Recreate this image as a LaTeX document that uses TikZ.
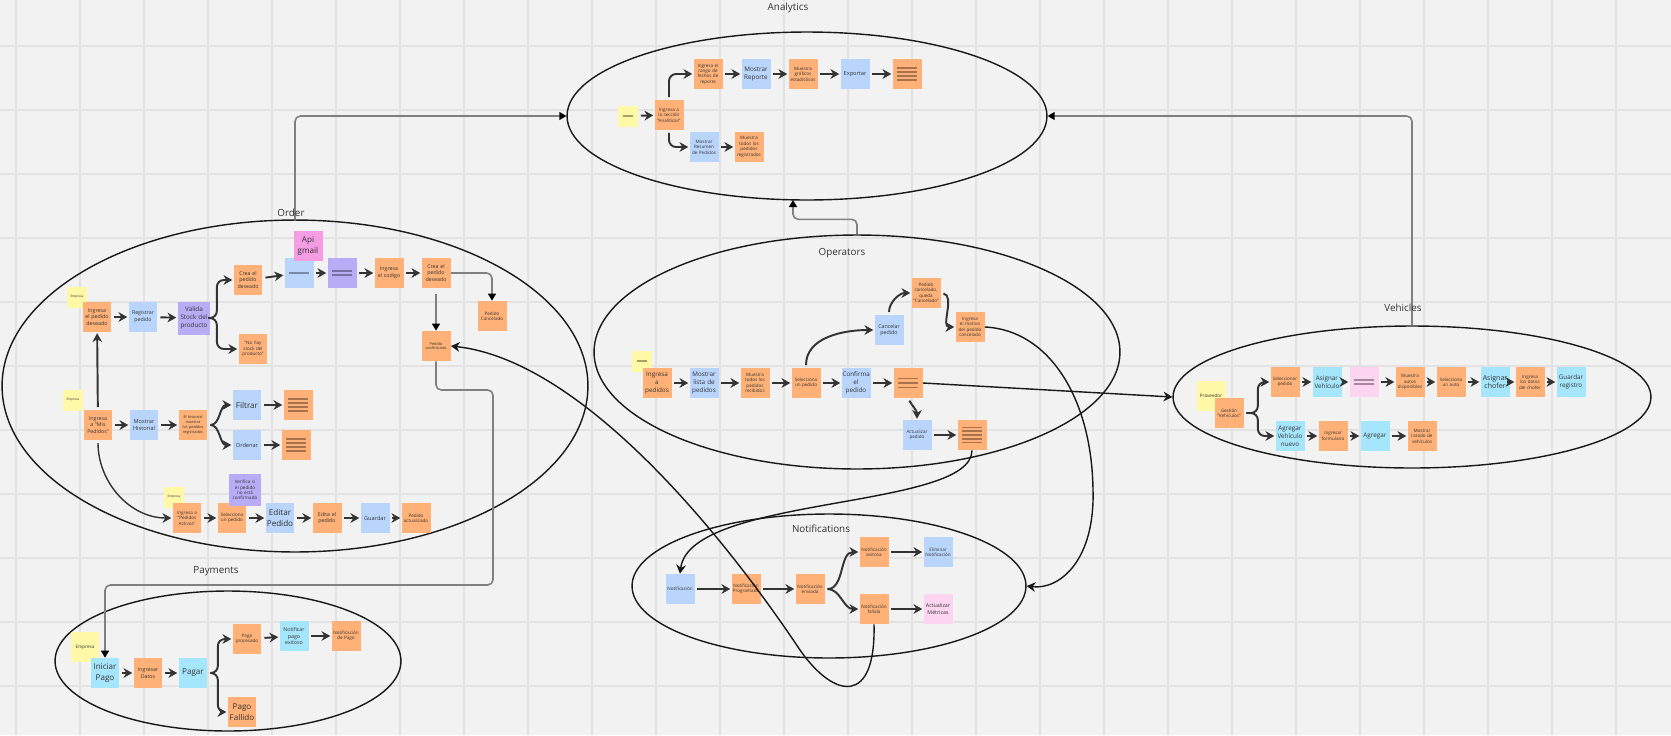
\documentclass[tikz,border=0pt]{standalone}
\usepackage{fontspec}
\setmainfont{Open Sans}
\usetikzlibrary{arrows.meta,shapes.geometric,calc}

\definecolor{bgcol}{HTML}{F2F2F2}
\definecolor{gridcol}{HTML}{E2E2E2}
\definecolor{orangenote}{HTML}{FFB177}
\definecolor{bluenote}{HTML}{B9D5FC}
\definecolor{cyannote}{HTML}{A6E6FC}
\definecolor{purplenote}{HTML}{B9ACF6}
\definecolor{pinknote}{HTML}{F59DE2}
\definecolor{lpinknote}{HTML}{FDD5F1}
\definecolor{yellownote}{HTML}{FFF8A6}
\definecolor{inkcol}{HTML}{333333}

\tikzset{
  note/.style={minimum width=0.58cm, minimum height=0.6cm, inner sep=0.4pt,
    text width=0.54cm, align=center, text=inkcol,
    font=\fontsize{2.6}{3.1}\selectfont},
  onote/.style={note, fill=orangenote},
  bnote/.style={note, fill=bluenote},
  cnote/.style={note, fill=cyannote},
  vnote/.style={note, fill=purplenote},
  knote/.style={note, fill=pinknote},
  lnote/.style={note, fill=lpinknote},
  ynote/.style={note, fill=yellownote},
  ysmall/.style={minimum width=0.4cm, minimum height=0.42cm, text width=0.36cm,
    font=\fontsize{1.8}{2.2}\selectfont},
  mtx/.style={font=\fontsize{3.6}{4.6}\selectfont},
  btx/.style={font=\fontsize{4.6}{6}\selectfont},
  zone/.style={ellipse, draw=black!90, line width=0.8pt, inner sep=0pt},
  zonetitle/.style={font=\fontsize{5.6}{7}\selectfont, text=inkcol},
  docline/.style={line width=0.9pt, draw=black, draw opacity=0.35},
  flow/.style={draw=inkcol, line width=1.1pt, shorten >=0.5pt, shorten <=1.5pt,
    -{Stealth[length=5pt,width=5.5pt,inset=1.6pt]}},
  link/.style={draw=black!50, line width=0.9pt, rounded corners=3pt,
    -{Triangle[length=4pt,width=4.5pt,color=black]}},
  wire/.style={draw=black!90, line width=0.8pt,
    -{Stealth[length=5pt,width=5.5pt,inset=1.6pt]}},
}

% lines drawn across a sticky note
\newcommand{\notelines}[2]{%
  \foreach \f in {#2}
    \draw[docline] ($(#1.north west)!\f!(#1.south west)+(5,0)$) -- ($(#1.north east)!\f!(#1.south east)+(-5,0)$);}

\begin{document}
\begin{tikzpicture}[x=0.02cm, y=-0.02cm]
  \useasboundingbox (0,0) rectangle (1671,735);
  \fill[bgcol] (0,0) rectangle (1671,735);
  \foreach \x in {16,80,...,1616}
    \draw[gridcol, line width=0.6pt] (\x,0) -- (\x,735);
  \foreach \y in {46,110,...,686}
    \draw[gridcol, line width=0.6pt] (0,\y) -- (1671,\y);

  % zones
  \node[zone, minimum width=9.6cm, minimum height=3.36cm] (analytics) at (807,116) {};
  \node[zone, minimum width=11.72cm, minimum height=6.64cm] (order) at (295,386) {};
  \node[zone, minimum width=6.92cm, minimum height=2.8cm] (payments) at (228,661) {};
  \node[zone, minimum width=10.52cm, minimum height=4.68cm] (operators) at (857,352) {};
  \node[zone, minimum width=7.88cm, minimum height=2.88cm] (notif) at (829,586) {};
  \node[zone, minimum width=9.56cm, minimum height=2.84cm] (vehicles) at (1412,397) {};
  \coordinate (anbot) at (793,200);

  % links between zones
  \draw[link] (order.north) |- (analytics.west);
  \draw[link] (vehicles.north) |- (analytics.east);
  \draw[link] (operators.north) -- ++(0,-15) -| (anbot);

  \node[zonetitle] (antitle) at (788,8) {Analytics};
  \node[zonetitle] (ortitle) at (291,213) {Order};
  \node[zonetitle] (patitle) at (216,571) {Payments};
  \node[zonetitle] (optitle) at (842,253) {Operators};
  \node[zonetitle] (notitle) at (821,529) {Notifications};
  \node[zonetitle] (vetitle) at (1403,308) {Vehicles};

  % analytics
  \node[ynote, ysmall] (anyel) at (628,116) {};
  \node[onote] (ansec) at (669,115) {Ingresa a la sección ``Analíticas''};
  \node[onote] (anrango) at (708,74) {Ingresa el rango de fechas de reporte};
  \node[bnote, mtx] (anrep) at (756,74) {Mostrar Reporte};
  \node[onote] (angraf) at (803,74) {Muestra gráficos estadísticos};
  \node[bnote, font=\fontsize{3.2}{4}\selectfont] (anexp) at (855,74) {Exportar};
  \node[onote] (andoc) at (907,74) {};
  \node[bnote] (anres) at (704,147) {Mostrar Resumen de Pedidos};
  \node[onote] (antodos) at (749,147) {Muestra todos los pedidos registrados};
  \notelines{anyel}{0.5}
  \notelines{andoc}{0.3,0.43,0.57,0.7}

  % order
  \node[ynote, ysmall] (oemp1) at (77,297) {Empresa};
  \node[onote, font=\fontsize{3}{3.8}\selectfont] (oing) at (97,317) {Ingresa el pedido deseado};
  \node[bnote, font=\fontsize{3}{3.8}\selectfont] (oreg) at (143,317) {Registrar pedido};
  \node[vnote, mtx, minimum width=0.66cm, minimum height=0.66cm, text width=0.62cm] (oval) at (194,318) {Valida Stock del producto};
  \node[onote, font=\fontsize{3}{3.8}\selectfont] (ocrea) at (248,280) {Crea el pedido deseado};
  \node[onote] (onost) at (253,349) {``No hay stock del producto''};
  \node[bnote] (oblue) at (299,273) {};
  \node[knote, btx] (oapi) at (308,246) {Api gmail};
  \node[vnote] (opurp) at (342,273) {};
  \node[onote, font=\fontsize{3}{3.8}\selectfont] (ocod) at (389,273) {Ingresa el codigo};
  \node[onote, font=\fontsize{3}{3.8}\selectfont] (ocrea2) at (436,273) {Crea el pedido deseado};
  \node[onote] (ocanc) at (492,316) {Pedido Cancelado};
  \node[onote, font=\fontsize{2.2}{2.7}\selectfont] (oconf) at (436,346) {Pedido confirmado};
  \node[ynote, ysmall] (oemp2) at (73,400) {Empresa};
  \node[onote, font=\fontsize{3}{3.8}\selectfont] (omis) at (98,425) {Ingresa a ``Mis Pedidos''};
  \node[bnote, font=\fontsize{3.2}{4.2}\selectfont] (ohist) at (144,425) {Mostrar Historial};
  \node[onote, font=\fontsize{2.2}{2.7}\selectfont] (ohistm) at (193,425) {El historial muestra los pedidos registrados};
  \node[bnote, btx] (ofilt) at (247,405) {Filtrar};
  \node[onote] (ofdoc) at (298,405) {};
  \node[bnote, font=\fontsize{3.2}{4.2}\selectfont] (oord) at (247,445) {Ordenar};
  \node[onote] (oodoc) at (296,445) {};
  \node[ynote, ysmall] (oemp3) at (174,497) {Empresa};
  \node[onote] (oact) at (187,518) {Ingresa a ``Pedidos Activos''};
  \node[onote] (osel) at (232,518) {Selecciona un pedido};
  \node[vnote, minimum width=0.64cm, minimum height=0.64cm, text width=0.6cm] (overif) at (245,490) {Verifica si el pedido no está confirmado};
  \node[bnote, btx] (oedit) at (280,518) {Editar Pedido};
  \node[onote, font=\fontsize{3}{3.8}\selectfont] (oedita) at (327,518) {Edita el pedido};
  \node[bnote, font=\fontsize{3.2}{4.2}\selectfont] (oguard) at (375,518) {Guardar};
  \node[onote] (oactz) at (416,518) {Pedido actualizado};
  \notelines{oblue}{0.5}
  \notelines{opurp}{0.44,0.56}
  \notelines{ofdoc}{0.3,0.43,0.57,0.7}
  \notelines{oodoc}{0.3,0.43,0.57,0.7}

  % payments
  \node[ynote] (pemp) at (85,647) {Empresa};
  \node[cnote, btx] (pinit) at (105,673) {Iniciar Pago};
  \node[onote, font=\fontsize{3}{3.8}\selectfont] (pdat) at (148,673) {Ingresar Datos};
  \node[cnote, btx] (ppag) at (193,673) {Pagar};
  \node[onote] (pproc) at (247,639) {Pago procesado};
  \node[cnote, font=\fontsize{3}{3.8}\selectfont] (pnot) at (294,636) {Notificar pago exitoso};
  \node[onote] (pnotif) at (346,636) {Notificación de Pago};
  \node[onote, btx] (pfall) at (242,712) {Pago Fallido};

  % operators
  \node[ynote, ysmall] (opyel) at (642,361) {};
  \node[onote, mtx] (oping) at (657,383) {Ingresa a pedidos};
  \node[bnote, mtx] (oplist) at (704,383) {Mostrar lista de pedidos};
  \node[onote] (opmues) at (755,383) {Muestra todos los pedidos recibidos};
  \node[onote] (opsel) at (806,383) {Selecciona un pedido};
  \node[bnote, mtx] (opconf) at (856,383) {Confirma el pedido};
  \node[onote] (opdoc1) at (908,383) {};
  \node[bnote, font=\fontsize{3}{3.8}\selectfont] (opcanc) at (889,330) {Cancelar pedido};
  \node[onote] (opcd) at (926,293) {Pedido cancelado, queda ``Cancelado''};
  \node[onote] (opmot) at (970,327) {Ingresa el motivo del pedido cancelado};
  \node[bnote] (opact) at (917,435) {Actualizar pedido};
  \node[onote] (opdoc2) at (972,435) {};
  \notelines{opyel}{0.5}
  \notelines{opdoc1}{0.35,0.5,0.65}
  \notelines{opdoc2}{0.25,0.375,0.5,0.625,0.75}

  % notifications
  \node[bnote] (nnot) at (680,589) {Notificación};
  \node[onote] (nprog) at (746,589) {Notificación Programada};
  \node[onote] (nenv) at (810,589) {Notificación enviada};
  \node[onote] (nexit) at (874,552) {Notificación exitosa};
  \node[onote] (nfall) at (874,609) {Notificación fallida};
  \node[bnote] (nelim) at (938,552) {Eliminar Notificación};
  \node[lnote, font=\fontsize{3}{3.8}\selectfont] (nmet) at (938,609) {Actualizar Métricas};

  % vehicles
  \node[ynote] (vprov) at (1211,396) {Proveedor};
  \node[onote] (vgest) at (1229,413) {Gestión ``Vehículos''};
  \node[onote] (vsel) at (1285,382) {Seleccionar pedido};
  \node[cnote, mtx] (vasig) at (1327,382) {Asignar Vehículo};
  \node[lnote] (vpink) at (1364,382) {};
  \node[onote] (vmues) at (1410,382) {Muestra autos disponibles};
  \node[onote] (vsela) at (1451,382) {Selecciona un auto};
  \node[cnote, font=\fontsize{4}{5}\selectfont] (vchof) at (1495,382) {Asignar chofer};
  \node[onote] (vdat) at (1530,382) {Ingresa los datos del chofer};
  \node[cnote, mtx] (vguard) at (1571,382) {Guardar registro};
  \node[cnote, mtx] (vnew) at (1290,436) {Agregar Vehículo nuevo};
  \node[onote] (vform) at (1333,436) {Ingresar formulario};
  \node[cnote, mtx] (vagr) at (1375,436) {Agregar};
  \node[onote] (vlist) at (1422,436) {Mostrar listado de vehículos};
  \notelines{vpink}{0.44,0.56}

  % gray connectors
  \draw[link, shorten <=3pt] (ocrea2) -- (oconf);
  \draw[link] (ocrea2.east) -| (ocanc.north);
  \draw[link] (oconf.south) |- (493,390) |- (105,585) -- (pinit.north);

  \begin{scope}[flow]
    \draw (anyel) to (ansec);
    \draw[rounded corners=4pt] (ansec.north) |- (anrango.west);
    \draw[rounded corners=4pt] (ansec.south) |- (anres.west);
    \draw (anrango) to (anrep);
    \draw (anrep) to (angraf);
    \draw (angraf) to (anexp);
    \draw (anexp) to (andoc);
    \draw (anres) to (antodos);

    \draw (oing) to (oreg);
    \draw (oreg) to (oval);
    \draw[rounded corners=4pt] (oval.east) -- ++(6,0) |- (ocrea.west);
    \draw[rounded corners=4pt] (oval.east) -- ++(6,0) |- (onost.west);
    \draw (ocrea) to (oblue);
    \draw (oblue) to (opurp);
    \draw (opurp) to (ocod);
    \draw (ocod) to (ocrea2);
    \draw (omis) to (oing);
    \draw (omis) to (ohist);
    \draw (ohist) to (ohistm);
    \draw (ohistm.east) to[out=0,in=180] (ofilt.west);
    \draw (ohistm.east) to[out=0,in=180] (oord.west);
    \draw (ofilt) to (ofdoc);
    \draw (oord) to (oodoc);
    \draw[line width=0.8pt] (omis.south) to[out=-90,in=180] (oact.west);
    \draw (oact) to (osel);
    \draw (osel) to (oedit);
    \draw (oedit) to (oedita);
    \draw (oedita) to (oguard);
    \draw (oguard) to (oactz);

    \draw (pinit) to (pdat);
    \draw (pdat) to (ppag);
    \draw[rounded corners=4pt] (ppag.east) -- ++(10,0) |- (pproc.west);
    \draw[rounded corners=4pt] (ppag.east) -- ++(10,0) |- (pfall.west);
    \draw (pproc) to (pnot);
    \draw (pnot) to (pnotif);

    \draw (oping) to (oplist);
    \draw (oplist) to (opmues);
    \draw (opmues) to (opsel);
    \draw (opsel) to (opconf);
    \draw (opconf) to (opdoc1);
    \draw (opsel.north) to[out=90,in=180] (opcanc.west);
    \draw (opcanc.north) to[out=90,in=180] (opcd.west);
    \draw (opcd.east) to[out=-10,in=180] (opmot.west);
    \draw (opdoc1.south) to[out=-60,in=90] (opact.north);
    \draw (opact) to (opdoc2);

    \draw (nnot) to (nprog);
    \draw (nprog) to (nenv);
    \draw (nenv.east) to[out=0,in=180] (nexit.west);
    \draw (nenv.east) to[out=0,in=180] (nfall.west);
    \draw (nexit) to (nelim);
    \draw (nfall) to (nmet);

    \draw[rounded corners=4pt] (vgest.east) -- ++(14,0) |- (vsel.west);
    \draw[rounded corners=4pt] (vgest.east) -- ++(14,0) |- (vnew.west);
    \draw (vsel) to (vasig);
    \draw (vasig) to (vpink);
    \draw (vpink) to (vmues);
    \draw (vmues) to (vsela);
    \draw (vsela) to (vchof);
    \draw (vchof) to (vdat);
    \draw (vdat) to (vguard);
    \draw (vnew) to (vform);
    \draw (vform) to (vagr);
    \draw (vagr) to (vlist);
  \end{scope}

  % long connectors
  \draw[wire] (opdoc1.east) -- (vehicles.west);
  \draw[wire] (opmot.east) .. controls (1050,330) and (1092,400) .. (1093,490) .. controls (1095,560) and (1060,590) .. (notif.east);
  \draw[wire] (opdoc2.south) .. controls (972,510) and (690,495) .. (nnot.north);
  \draw[wire] (nfall.south) .. controls (876,705) and (835,700) .. (800,650) .. controls (720,530) and (580,360) .. (oconf.east);
\end{tikzpicture}
\end{document}
